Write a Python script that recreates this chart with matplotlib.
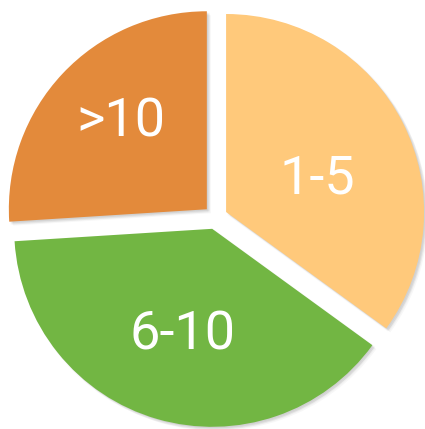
import numpy as np
import matplotlib
matplotlib.use("Agg")
import matplotlib.pyplot as plt
from matplotlib.patches import Wedge

categories = ["1-5", "6-10", ">10"]
values = [35, 39, 26]
colors = ["#FFC97B", "#72B643", "#E38A3B"]
label_frac = [0.50, 0.53, 0.64]
label_rot = [-4, 0, -4]

fig = plt.figure(figsize=(4.25, 4.29), dpi=100)
ax = fig.add_axes([0, 0, 1, 1])
wedges, _ = ax.pie(values, colors=colors, startangle=90, counterclock=False,
                   explode=[0.06] * 3, radius=1.0,
                   wedgeprops=dict(linewidth=0))
ax.set_aspect("auto")
ax.set_xlim(-215.5 / 198, (425 - 215.5) / 198)
ax.set_ylim(-(429 - 217.4) / 198, 217.4 / 198)
ax.axis("off")

# soft blurred shadow (pixel offsets converted to data units)
px = 1 / 198
offs = [(1.0, -1.0), (2.0, -2.0), (3.0, -3.0), (4.0, -4.0), (1.5, -3.0), (3.0, -1.5)]
for w in wedges:
    w.set_zorder(3)
    cx, cy = w.center
    for ox, oy in offs:
        s = Wedge((cx + ox * px, cy + oy * px), w.r, w.theta1, w.theta2,
                  facecolor="black", edgecolor="none", alpha=0.03, zorder=2)
        ax.add_patch(s)

for w, lab, f, rot in zip(wedges, categories, label_frac, label_rot):
    ang = np.deg2rad((w.theta1 + w.theta2) / 2 + rot)
    cx, cy = w.center
    ax.text(cx + f * np.cos(ang), cy + f * np.sin(ang), lab,
            ha="center", va="center_baseline", color="white", zorder=5,
            fontsize=39, fontweight="normal",
            family=["Roboto", "DejaVu Sans"])

fig.savefig("out.png", dpi=100)
